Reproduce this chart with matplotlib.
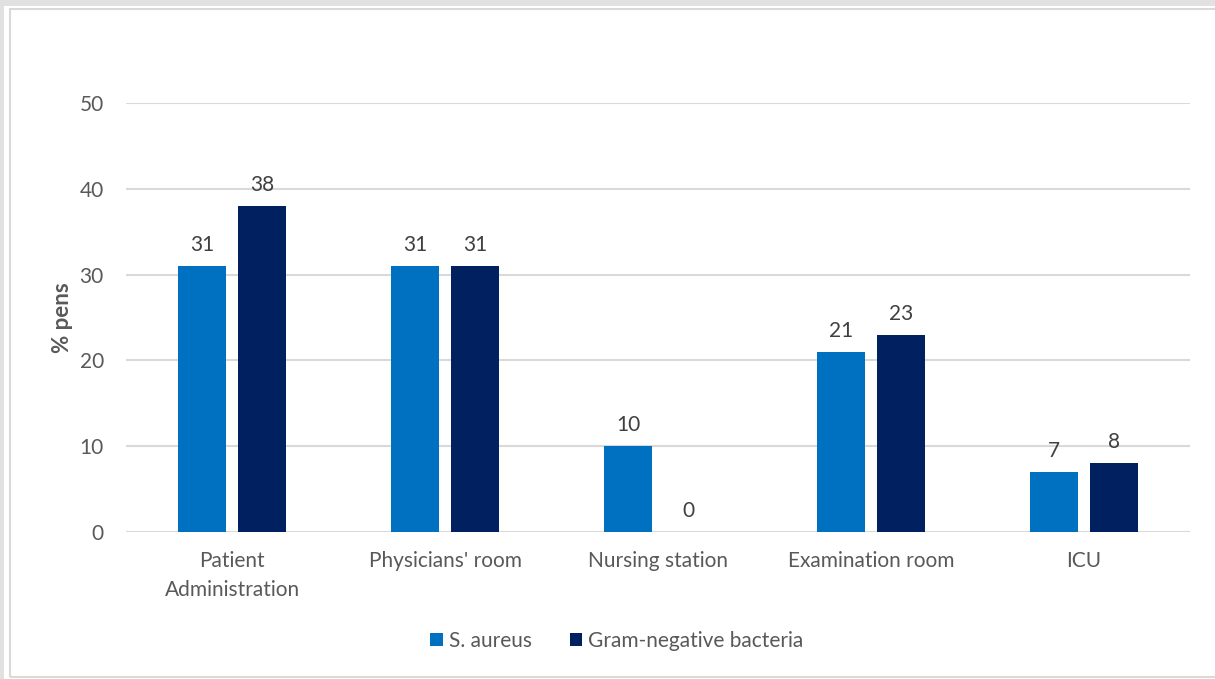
import matplotlib
matplotlib.use('Agg')
import matplotlib.pyplot as plt
from matplotlib.patches import Rectangle
import numpy as np

categories = ['Patient\nAdministration', "Physicians' room", 'Nursing station',
              'Examination room', 'ICU']
s_aureus = [31, 31, 10, 21, 7]
gram_neg = [38, 31, 0, 23, 8]
series_names = ['S. aureus', 'Gram-negative bacteria']
colors = ['#0070C0', '#002060']

plt.rcParams['font.family'] = ['Lato', 'DejaVu Sans']
txt = '#595959'
fs = 15

fig = plt.figure(figsize=(12.15, 6.79), dpi=100)
fig.patch.set_facecolor('white')

# grey window frame around the chart
fig.patches.append(Rectangle((0, 1 - 6 / 679), 1, 6 / 679, transform=fig.transFigure,
                             facecolor='#E1E1E1', edgecolor='none', zorder=0))
fig.patches.append(Rectangle((0, 0), 4 / 1215, 1, transform=fig.transFigure,
                             facecolor='#E1E1E1', edgecolor='none', zorder=0))
fig.patches.append(Rectangle((10 / 1215, 2 / 679), 1.0, 1 - 11 / 679, transform=fig.transFigure,
                             facecolor='none', edgecolor='#D9D9D9', linewidth=1.5, zorder=0))

ax = fig.add_axes([126 / 1215, 1 - 532 / 679, 1064 / 1215, 429 / 679])

x = np.arange(len(categories))
w = 0.225
off = 0.141
b1 = ax.bar(x - off, s_aureus, w, color=colors[0], label=series_names[0], zorder=3)
b2 = ax.bar(x + off, gram_neg, w, color=colors[1], label=series_names[1], zorder=3)

for bars in (b1, b2):
    for r in bars:
        ax.annotate(f'{r.get_height():.0f}', (r.get_x() + r.get_width() / 2, r.get_height()),
                    xytext=(0, 8), textcoords='offset points', ha='center', va='bottom',
                    fontsize=fs, color='#404040')

ax.set_xlim(-0.5, len(categories) - 0.5)
ax.set_ylim(0, 50)
ax.set_yticks(range(0, 51, 10))
ax.set_xticks(x)
ax.set_xticklabels(categories, linespacing=1.55)
ax.tick_params(axis='both', length=0, labelsize=fs, labelcolor=txt)
ax.tick_params(axis='x', pad=14)
ax.tick_params(axis='y', pad=16)
ax.grid(axis='y', color='#D9D9D9', linewidth=1.5, zorder=0)
for s in ax.spines.values():
    s.set_visible(False)

ax.set_ylabel('% pens', fontsize=fs + 1, color=txt, fontweight='bold')
ax.yaxis.set_label_coords(-0.05, 0.5)

fig.legend(handles=[b1, b2], labels=series_names, loc='center',
           bbox_to_anchor=(617 / 1215, 1 - 641 / 679), ncol=2, frameon=False,
           fontsize=fs, labelcolor=txt, handlelength=0.6, handleheight=0.6,
           handletextpad=0.3, columnspacing=1.8)

fig.savefig('out.png', dpi=100, facecolor=fig.get_facecolor())
